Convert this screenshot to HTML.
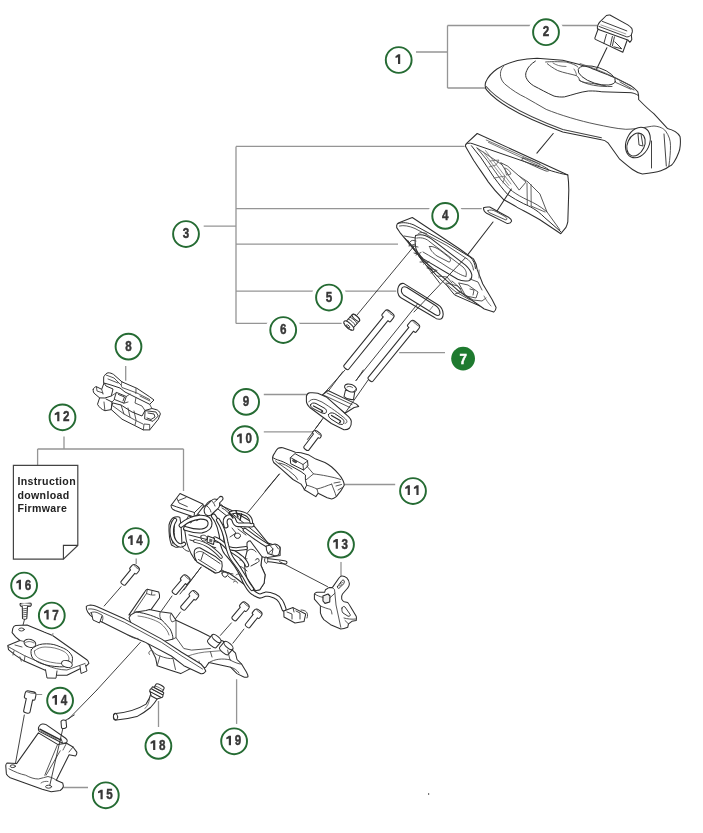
<!DOCTYPE html>
<html><head><meta charset="utf-8"><style>
html,body{margin:0;padding:0;background:#fff;width:703px;height:833px;overflow:hidden}
svg{display:block}
text{font-family:"Liberation Sans",sans-serif}
svg{will-change:transform}
</style></head><body>
<svg width="703" height="833" viewBox="0 0 703 833">
<rect width="703" height="833" fill="#fff"/>
<path d="M416 52H447.5 M447.5 25.5V88 M447.5 25.5H597 M447.5 88H486 M203.7 226.2H236 M236 146.4V323.4 M236 146.4H464.6 M236 208.7H481.7 M236 244.2H398 M236 291.2H396.3 M236 323.4H341.6 M399.2 352.7H445 M125.7 365.9V380.8 M263.8 394.5H308.4 M263.8 431.9H315.6 M343.5 484.5H395.2 M64 436.4V449 M37.6 449H183.5 M37.6 449V465.4 M183.5 449V491 M341 558V577 M136.2 555V564 M236.6 679.3V727 M158.5 701V727 M62 787.5H88" fill="none" stroke="#959595" stroke-width="1.3"/>
<g fill="none" stroke="#2e2e2e" stroke-width="1.05" stroke-linejoin="round" stroke-linecap="round">
<!-- part 2 cap -->
<path d="M598.5 28 L594.9 37.9 C594.8 38.6 595 39.1 595.4 39.4 L622.8 52.3 L627.8 38.5Z" fill="#fff"/>
<path d="M606.4 34.4 L603.9 43.3 M612.4 36.4 L610.4 45.3 M614.4 36.9 L612.4 45.8 M614.9 41.9 L621.8 48.8 L613.9 46.8" stroke="#333" stroke-width="0.95"/>
<path d="M597.9 24.9 C598.5 23.8 599.2 22.8 599.9 21.9 L606.4 15.5 C607.5 15 608.7 14.9 609.9 15 L627.8 24.9 C629.5 26 630.8 27.2 631.8 28.4 C632.3 29.6 632.4 30.8 632.3 31.9 L631.3 34.9 L631.8 39.4 C631.2 40.6 630.5 41.6 629.8 42.3 L627.8 39.9 L599.9 29.9 C598.8 29.5 597.8 29 597.4 28.4 C597.2 27.2 597.4 26 597.9 24.9Z" fill="#fff"/>
<path d="M598.9 26.4 L626.8 36.9 C628.5 37 630 36.2 631.3 34.9" stroke="#333" stroke-width="0.95"/>
<path d="M602.4 21.4 L626.8 30.9" stroke="#333" stroke-width="0.95"/>
<path d="M600.9 24.9 L625.8 33.9" stroke="#888" stroke-width="0.8"/>
<path d="M606.9 47.8 L585 93"/>
<!-- part 1 cover -->
<path d="M486 81.6 C488 77 492 72.5 497 69 C503 65 510 62.5 517.5 60.5 C524 59 530 58.3 537.1 58.2 L562.7 60.2 C572 62.5 580 64.5 588.3 67.1 C598 71 606 74 613.9 77.3 L631 85.8 C634 88 636.5 90 637.8 91.8 C638.5 94 638.8 97 638.6 99.5 C644 105 648 109 653.8 113.7 L667.4 128.4 C672 129.5 677 131 680 136.4 C681 142 680 150 678.8 152.3 C676 160 672 166 669.7 166 C665 170 660 172 642.4 174 C636 173 630 168 619.7 159.2 L608.3 143.2 C605 140 603 139.8 601.4 139.8 L562.8 131.9 C530 120 500 106 486.8 90.1 C484.8 88 484.8 84 486 81.6Z" fill="#fff"/>
<path d="M486.2 86.5 C499 102 528 116.5 562.8 129.6 L601.4 137.8" stroke="#444"/>
<path d="M503.5 66.5 C500.5 69 499.8 74 501 78 C502 81 503.5 83 506 85 C512 90 519 94.5 525.5 97.5 C532 101 539 105.5 546.2 109.4 C560 115 580 121 596 124.3 C607 126.5 615 128.5 625.8 129.3 C640 129 648 126.5 654 126 C660 126.5 663.5 128.5 665.6 131 C669 136 670.5 140 670.5 145.8 C670.5 152 670 158 668.9 165.7" stroke="#444" stroke-width="0.9"/>
<path d="M535.4 61.1 C531 64 528 67 526.8 70.5 C525.5 73 525.5 75 526 77.3 C527.5 81 530 83.5 533.7 85.8 C540 89 547 93 554.1 96.1 C558 97 561 97.2 564.4 96.9 C572 95 580 92 588.3 91 C594 90.8 598 91.2 601.9 91.8 L631 92.7 C634 93.2 636 94 637.8 95.2" stroke="#2e2e2e" stroke-width="1"/>
<path d="M545.6 62 C550 61.5 558 61.6 566.1 62 C572 63.5 576 65 578 67.1 M547.3 63.7 C550 66 553 68 557.6 70.5 C564 73 571 74 576.3 75.6 C578.5 77 579.5 79 579.7 80.7 C583 82.5 587 83 591.7 83.3 L605.4 85.8" stroke="#444" stroke-width="0.9"/>
<path d="M553 63 C556 65 560 66.5 566 66.5 M574 69 C576 72 577 75 576.3 75.6" stroke="#555" stroke-width="0.8"/>
<ellipse cx="596.8" cy="75.5" rx="19.5" ry="8" transform="rotate(18 596.8 75.5)" stroke-width="0.9"/>
<path d="M579 80 C586 85 600 87 612 86.5 M615.6 82.4 L631 89.3 M620 82 L634 90" stroke="#444" stroke-width="0.9"/>
<path d="M580 63.5 C600 70 615 77 630 85.5" stroke="#555" stroke-width="0.8"/>
<ellipse cx="637.9" cy="142.5" rx="11.5" ry="16" transform="rotate(25 637.9 142.5)" fill="#fff"/>
<ellipse cx="636" cy="144.5" rx="8.5" ry="12" transform="rotate(25 636 144.5)"/>
<path d="M638 134 L639 145 L643 146 L641 134Z" stroke-width="0.9"/>
<path d="M651.5 141 L651.5 168 M664 134 L666.3 166" stroke-width="0.9"/>
</g>
<g fill="none" stroke="#2e2e2e" stroke-width="1.05" stroke-linejoin="round" stroke-linecap="round">
<!-- part 3 housing -->
<path d="M477.2 133.5 L567.8 174.9 C568.5 180 568.8 185 568.8 189.9 L567.8 221.8 C567.3 224 566.7 226 565.8 227.7 L560.8 233.7 L539.9 219.8 C530 214 522 210 516.9 207.1 C512 204 507 201.5 503.2 199.2 C497 193 492 187 488.4 182.1 C483 174 478 167 473.7 160.5 L465.7 146.8 C465.3 145.5 465.5 144.3 466.3 143.6Z" fill="#fff"/>
<path d="M466.5 144 C468 143 470 143 472 143.5 L551.8 171 C557 172.5 562 174 567.8 174.9" stroke="#2e2e2e" stroke-width="1"/>
<path d="M486.2 140 L540 164 M488.4 142.3 L540 166.2" stroke="#555" stroke-width="0.8"/>
<path d="M523 158 C530 159.5 540 164 548 169 C550 170.5 549 171.5 546 171 C538 168 530 164 523.5 161 C521.5 160 521.5 158.5 523 158Z" stroke="#444" stroke-width="0.9"/>
<path d="M471.4 145.7 C474 149 477 153 480.5 157.1 C485 164 490 171 494.1 177.5 C499 184 503 189.5 507.8 194.6 C513 198 518 201 523.7 203.7 C530 206.5 536 209 544.9 217.8 L560.8 231.7" stroke="#2e2e2e" stroke-width="1"/>
<path d="M477 148 C480 152 484 156 487.3 160.5 C492 167 496 173 501 179.8 C505 184 508 188 512.3 191.2 C517 194.5 522 197.5 528.3 200.3 C534 203 540 206 546.9 211.8 L559.8 229.7" stroke="#444" stroke-width="0.9"/>
<path d="M527.9 181.9 L539.9 193.9 L546.9 211.8 M477 148 L527.9 181.9" stroke="#444" stroke-width="0.9"/>
<path d="M482.8 151.4 L508.9 185.5 M485.5 150.5 L511 184" stroke="#777" stroke-width="0.8"/>
<path d="M490 161 L499 160 L496 165 L489 167 M494 178 L505 176 L503 183" stroke="#666" stroke-width="0.8"/>
<path d="M501 162.8 L507.8 166.2 L526 182.1 L519.2 190.1 L510 177.5Z" fill="#fff" stroke="#444" stroke-width="0.9"/>
<path d="M527 183.2 L527.3 204.8 M531 184.5 L531.2 206 M531 206 L545 212" stroke="#555" stroke-width="0.9"/>
<path d="M505 168 C508 169 510 171 511 174 L507 175Z" stroke="#555" stroke-width="0.8"/>
<!-- gasket 4 -->
<path d="M483.5 207.8 C485 207 487.5 206.8 489.7 207 L508.5 217.2 C510.5 218.5 511.6 219.8 511.6 221.1 C511 222.8 509 223.6 506.9 223.4 L486.6 213.3 C484.5 212 483.3 210.8 483.5 207.8Z" fill="#fff"/>
<path d="M488 210.5 C490 209.5 493 210 496 211.5 L505 216.5 C507 218 507.5 219.5 506 220 L490 213 C488.5 212.3 487.5 211.5 488 210.5Z" stroke="#444" stroke-width="0.9"/>
<path d="M553.2 133.5 L536.9 153.2 M511.3 189 L497 211 M493 222 L465.2 258" />
</g>
<g fill="none" stroke="#2e2e2e" stroke-width="1.05" stroke-linejoin="round" stroke-linecap="round">
<!-- part 5 plate -->
<path d="M396.7 225.3 C397 224 397.5 223.3 398.3 223 L412.3 217.5 L459.3 248.8 L473.4 258.9 C475.5 262 476.8 265.5 477.3 269.9 L482.8 284 L492.1 299.6 L496.1 307.4 C496 309.5 495 311.2 493.7 312.1 L484.3 309 L457.7 290.2 L421.7 258.9 L399.8 232.3 L396.7 227.6Z" fill="#fff"/>
<path d="M398.3 223.5 C402 222 408 222.5 414 225 L447 243 L470 257 C473.5 260 475 264 475.5 268.5" stroke="#2e2e2e" stroke-width="1"/>
<path d="M399.5 226 C404 225 409 226 415 228.5 L446.8 245.5 L468 259.5 C471.5 262.5 473 266 473.5 270" stroke="#444" stroke-width="0.9"/>
<path d="M415.5 235.5 C420 234 426 235 431.1 238.6 L465.5 265.2 C468.5 268 471 271 471.8 274.6 C472 277.5 470.5 280 468.7 280.8 C464 281.5 460 280.5 457.7 279.3 L423.3 258.9 C419 255 416 251 415.5 246.4 C415 242 415 238 415.5 235.5Z" fill="#fff"/>
<path d="M417 238 C422 237 427 239 430 242 L463 267 C466 270 467 273 466 276 M423 252 C430 256 440 262 449 268 C456 272 462 276 466 276.5" stroke="#444" stroke-width="0.9"/>
<path d="M429.6 246.4 C433 246 437 248 441 251 L449.9 258 C451 260 450.5 262 449 262.1 L437 256 C433 253 430 250 429.6 246.4Z" stroke="#444" stroke-width="0.9"/>
<path d="M418 234 C420 232 424 232 427 234 M416 241 C413 240 411 240 410 242" stroke="#444" stroke-width="0.9"/>
<path d="M407.6 240.2 L423 262 L446.8 285.5 L454.6 294.9 L479.6 305.9" stroke="#2e2e2e" stroke-width="1"/>
<path d="M404 236 L416 238 M409 245 L418 247 M414 253 L420 255 M420 262 L428 262 M427 268 L436 270" stroke="#444" stroke-width="0.9"/>
<path d="M437 276 L447 277 L452 283 M446 283 L458 286 L462 292 L455 294" stroke="#444" stroke-width="0.9"/>
<path d="M459 283 L468 285 L478 292 L476 298 L466 296Z M470 289 L474 290 L473 295" stroke="#444" stroke-width="0.9"/>
<path d="M461 292 L473 300 L482 301 L486 298 M470 279 L478 282 L482 290" stroke="#444" stroke-width="0.9"/>
<path d="M405.5 238.5 L440 283.5 M409 242 L436 275" stroke="#333" stroke-width="0.95"/>
<path d="M409 246 L415.5 244 M416 255 L421 252.5 M423.5 264 L429 261.5 M431 273 L437 270.5" stroke="#444" stroke-width="0.9"/>
<path d="M446 284 L456 292 L470 300 M452 281 L461 289" stroke="#444" stroke-width="0.9"/>
<path d="M479 270 L479 278 M484 296 C486 300 489 304 491 306" stroke="#555" stroke-width="0.8"/>
<!-- gasket ring (7) -->
<path d="M398.5 286.5 C400 283.5 402 283 404 283.6 L438 304.7 C441 306.5 443 310 443.2 314.1 C443 317.5 441.5 319.3 439.5 319.3 C437 319.2 435.5 318.5 434.6 317.5 L400.5 297.5 C397.5 295 396.8 290 398.5 286.5Z" fill="#fff"/>
<path d="M402 288 C403 286.5 405 286.5 407 287.5 L435.5 305.5 C438.5 307.5 440 311 440 313.5 C439.5 316 437.5 316 435 314.5 L403.5 295 C401.5 293 401 290 402 288Z"/>
<path d="M429 311 L433 306" stroke="#666" stroke-width="0.8"/>
<!-- part 6 bushing -->
<g transform="translate(352.5 321.5) rotate(-48)">
<path d="M-5 -4.8 L5 -4.8 C6.5 -4.8 7 -3 7 0 C7 3 6.5 4.8 5 4.8 L-5 4.8Z" fill="#fff"/>
<ellipse cx="5" cy="0" rx="1.8" ry="4.8" fill="#fff"/>
<path d="M-1 -4.8 C0 -2 0 2 -1 4.8 M1.5 -4.8 C2.5 -2 2.5 2 1.5 4.8" stroke="#444" stroke-width="0.9"/>
<ellipse cx="-5.5" cy="0" rx="2.4" ry="6.3" fill="#fff"/>
<path d="M-7 -5 C-9 -3 -9 3 -7 5" stroke="#444" stroke-width="0.9"/>
<ellipse cx="-6.5" cy="0" rx="0.9" ry="2.2" stroke-width="0.8"/>
</g>
<!-- axis lines -->
<path d="M465.2 258 L414 312 M417.5 304 L355.8 380.7 M342.8 371.7 L327.9 391.6" stroke-width="0.9"/>
<path d="M414.1 246 L357 315" stroke-width="0.9"/>
</g>
<g fill="none" stroke="#2e2e2e" stroke-width="1" stroke-linejoin="round" stroke-linecap="round">
<!-- part 8 clip frame -->
<path d="M103.9 376.5 C105 374.5 106.5 373 108.1 372.8 C110 372.7 112 373.5 113.5 374.4 L122 381.9 L136.9 388.3 L149.7 396.8 L154 400 L151 403 L149.7 404.3 L136 397.5 L125 392 L120 388 L111 385 L104 383Z" fill="#fff"/>
<path d="M106 375 L114 378 L121 385 M108 379 L118 383" stroke="#444" stroke-width="0.9"/>
<path d="M122 381.9 C121 384 121 386 122 387.5 L136.9 393 L149.7 399.5 M135.9 393.6 L136 388.5 M140 396 L150 401" stroke="#444" stroke-width="0.9"/>
<path d="M93.2 389.3 C94 387.5 95 386.8 96.4 386.7 L101.7 389.3 L104 383 L106 386 L113 389 L111.3 396 L104.9 398 L99.6 397.9 L97.5 404.3 C99 407 101.5 409.5 104.9 410.7 L111.3 409.6 L112 402 L106 399 M93.2 389.3 C93 391.5 93.5 393 95 394 L99.6 397.9" fill="#fff"/>
<path d="M96.4 386.7 L97 391 L103 393 M101.7 389.3 L103 394 M104.9 410.7 L104 402" stroke="#444" stroke-width="0.9"/>
<path d="M116.7 392.5 L126.3 396.5 L124 403.2 L114.5 399.5Z M118.5 394.5 L124.5 397 L123 401" stroke="#2e2e2e" stroke-width="0.95"/>
<path d="M111.3 396 L116.7 392.5 M112 402 L114.5 399.5 M126.3 396.5 L130 394 M124 403.2 L128 402" stroke="#444" stroke-width="0.9"/>
<path d="M111.3 409.6 L122 419.2 L134.8 425.6 L143.3 429.9 L149.7 429.9 L158.3 419.2 L160.4 413.9 C159.5 411.5 158 410 156.1 409.6 L151.9 408.5 L145 410.5 L142 416 L132 412 L121 405 L113 403Z" fill="#fff"/>
<path d="M113 406 L124 414 L134.8 420 L143 424 M121 405 L124 414 M128 408 L130 417 M134 411 L136 420" stroke="#444" stroke-width="0.9"/>
<path d="M145.5 410.7 L156 412 L158.3 416 L153 421.3 L145 419Z M148 413 L154 414 L155 417 L151 419.5 L147 418" stroke="#2e2e2e" stroke-width="0.95"/>
<path d="M143.3 429.9 L144 424 L149.7 424.5 L149.7 429.9 M134.8 425.6 L136 421" stroke="#444" stroke-width="0.9"/>
<path d="M149.7 404.3 L151.9 408.5 M136 397.5 L135 403 L142 406 L145 410.5" stroke="#444" stroke-width="0.9"/>
</g>
<g fill="none" stroke="#2e2e2e" stroke-width="1.05" stroke-linejoin="round" stroke-linecap="round">
<!-- part 9 -->
<path d="M322.3 395 L328 390.5 L356.4 404.1 L358.7 406.4 L354.2 407.5 L345 413.2Z" fill="#fff"/>
<path d="M327 393 L352 404.5 M324.5 395.5 L350 407.5" stroke="#444" stroke-width="0.9"/>
<path d="M345.5 390 L344 396.5 C346 398.5 350 400 353.5 399.5 L354.8 391.5Z" fill="#fff"/>
<ellipse cx="350.5" cy="388" rx="6.2" ry="3.6" transform="rotate(20 350.5 388)" fill="#fff"/>
<path d="M347 387 C348.5 386 351 386.2 352.5 387.5 M353.5 392 C354.5 390.5 355.5 389.5 356.5 389" stroke="#444" stroke-width="0.9"/>
<path d="M306.4 396.2 C307 394 308 393 309.8 392.8 C313 392.6 316 392.8 317.8 393.3 L326.9 397.3 L348.5 416.6 C350 418 351 419.5 351.3 421.2 C351.5 424 350.8 426.5 349.6 428 C348 429.5 346 429.8 343.9 429.7 L331.4 423.5 L309.8 407.5 C307.5 405 306.2 402.5 306.4 400.7Z" fill="#fff"/>
<path d="M308.7 401.9 C310 399.5 313 399 316 399.5 L322 402 C330 407 340 414 345.5 419 C347.5 421 347.5 423 345 423.5" stroke="#444" stroke-width="0.9"/>
<path d="M310.5 405 C311 403 313.5 402.5 316 403.5 L325 408.5 C327 410 327 412.5 325 413.5 L322 413 L313 408.5 C311.5 407.5 310.5 406.5 310.5 405Z M328.5 414.5 C329.5 412.5 332 412.5 334.5 413.5 L342 418.5 C344.5 420 344.5 423 342.5 424.5 L339 424 L331 419 C329 417.5 328.2 416 328.5 414.5Z" stroke="#2a2a2a" stroke-width="1"/>
<path d="M313.5 406 L322 410.5 C323 411.5 322.5 412 321.5 412 M331.5 415.5 L340 420.5 C341 421.5 340.5 422.5 339.5 422.5" stroke="#2a2a2a" stroke-width="1.3"/>
<path d="M345 370 L324.6 392.8 M356.4 380.2 L363.3 370 M373.5 372.3 L345 413.2 M323.4 417.8 L307.5 439.4" stroke-width="0.9"/>
<path d="M321.9 420 L316 428" stroke-width="0.9"/>
<!-- part 11 -->
<path d="M272.6 457.4 C273 455.5 273.8 454 274.8 452.8 C276 450.5 277 449 278.2 448.3 C279.5 447.6 281 447.5 282.8 447.7 L290.8 450.5 L295.3 452.2 L301 452.8 L309 455.1 L315.8 459.1 L324.9 462.5 C327.5 463.8 329.5 465.2 331.7 467 C334 469 336.5 471.5 338.5 473.9 C340.5 476 342 478.5 343.1 480.7 C343.8 482.2 344.2 483.8 344.2 485.2 L340.8 490.9 L336.3 496.6 C334.5 498 333 498.8 331.7 498.9 L327.2 497.7 L318.1 493.2 L315.8 496.6 L304.4 489.8 L303.3 487.5 L301 484.1 L293 479.5 L281.7 469.3 L273.7 462.5 C272.8 461 272.4 459 272.6 457.4Z" fill="#fff"/>
<path d="M272.8 457.5 C274 458.5 276 459.5 280.5 460.8 C284 462 287.5 464 290.8 465.9 L301 471.6 L305.5 475 C305.3 477 305.3 479 305.5 480.7 L306.7 485.2 L304.4 489.8" stroke="#2e2e2e" stroke-width="1"/>
<path d="M275.5 461 C277 462.5 279 464 281 465 L288.5 470.4 C291 472.5 293.5 474.5 295.3 476.1 L297.6 479.5 M279 463 C283 463.5 288 466 292 469" stroke="#444" stroke-width="0.9"/>
<path d="M290.5 457.5 L295 453.6 L307.5 460.5 L308 466 L303.5 470 L291 463.8Z" fill="#fff" stroke="#2e2e2e" stroke-width="1"/>
<path d="M291 457.8 L303 464.5 L307.8 460.8 M303 464.5 L303.5 470" stroke="#333" stroke-width="0.9"/>
<path d="M293.5 459.5 L297 461.5 L296 463 L292.8 461.2Z" fill="#555" stroke="#333" stroke-width="0.8"/>
<path d="M306.7 465.9 L313.5 473.9 C318 474.5 322 475 327.2 476.1 C332 477 336.5 478 340.8 479.5 M313.5 473.9 L306 480" stroke="#444" stroke-width="0.9"/>
<path d="M331.7 484.1 C333 488 335 492 336.3 496.6 M334 483 L340 482 M336 486 L341.5 484.5 M338 490 L342.5 487.5" stroke="#444" stroke-width="0.9"/>
<path d="M306.7 485.2 C310 486 314 487.5 317 489 L318.1 493.2 M317 489 C322 488 327 485.5 331.7 484.1" stroke="#444" stroke-width="0.9"/>
<path d="M279.2 474.1 L265 491.1" stroke-width="0.9"/>
</g>
<g fill="none" stroke="#2e2e2e" stroke-width="1.05" stroke-linejoin="round" stroke-linecap="round">
<!-- ECU / throttle body main -->
<path d="M185 532 C184 525 186 519 191 516 L206 505 C209 500 214 498 219.7 504.9 L233.4 511.3 L250 521 L268 543 L280.1 547 L280.1 555.6 L266 557.7 L262 556.7 L260.9 565.2 L265.1 574.8 L264.1 583.3 L259.8 589.7 L255.5 590.8 C248 588 242 583 236 578 L228.4 572.7 L222 571 L215 573 L195 560 C190 553 186 544 185 532Z" fill="#fff"/>
<path d="M220.4 504 L269 543.6 M218 509 L262 544 M188.9 534.9 L219.8 542.9 M189.9 539.9 L215.8 547.8 M219.8 542.9 C224 545 226 547 228 549" stroke="#2e2e2e" stroke-width="1"/>
<path d="M201 536 C203 534.5 206 535 207 537.5 C207.5 540 205.5 541.5 203 541 C201 540 200.5 538 201 536Z M208 538 C210 537 212 538 212.5 540" stroke="#333" stroke-width="0.9"/>
<path d="M247 542.8 C248 541 249 540.7 250.2 540.7 L262 556.7 L260.9 565.2 L265.1 574.8 L264.1 583.3 L259.8 589.7 L255.5 590.8 L247 578 C244 570 244 560 247 551.3Z" fill="#fff"/>
<path d="M247 551.3 C250 548 254 549 256 552 M240 560 L247 558.8 M238 566 C241 566 244 568 247 571" stroke="#333" stroke-width="0.9"/>
<path d="M255.5 560 C256 558.5 258 558 259 559.5 C259.5 561 258.7 562 257.5 562.5 L251 566" stroke="#333" stroke-width="1"/>
<path d="M169 525 C170 521 172.5 517.5 175 517 C177.5 516.5 179.5 517 179.9 517.5 L181 525 L182 545 C180 547.5 177 547.5 175 546.9 L171.5 545 C169.5 540 168.8 532 169 525Z" fill="#fff"/>
<path d="M172 521 C170.5 528 171 538 173 544 M175.5 519 C173.5 527 174 538 176.5 545.5" stroke="#333" stroke-width="0.9"/>
<path d="M180 493.5 L202.8 504 C203.5 505 203.5 506 203 507 L196.5 515.5 L194 517 L175 510.5 C172.5 509.5 171 507.5 171 505.5 Z" fill="#fff"/>
<path d="M171.5 505 C178 507.5 186 510 194.5 512.5 L202.8 504.5 M194.5 512.5 L194 517" stroke="#2e2e2e" stroke-width="1"/>
<path d="M177 498.5 L179 503 L187.3 506.6 M178.5 500.5 L186 497.5" stroke="#333" stroke-width="0.9"/>
<path d="M189 516 L193 519 L191 523 L186 521Z M195 516.5 L199 514 L201 518 L197 520.5Z" fill="#fff" stroke="#333" stroke-width="0.9"/>
<path d="M205.2 507 L211.5 500.5 C213 499 215 498.5 217 499.5 L219 497.5 C220 496.4 221.5 496.2 222.5 497 C223.2 498 223 499.5 222 500.5 L219.5 503 C220 505 219.5 507 218 508.5 L211 515 C209 516 206.5 515.5 205.2 514 C204 512 204 509 205.2 507Z" fill="#fff"/>
<path d="M211.5 500.5 C213 502 214.5 504 215 506 M214.5 502 L217.5 499.5 M207 506 C209 507.5 210.5 509.5 211 512" stroke="#333" stroke-width="0.9"/>
<g fill="none">
<path d="M181 525.4 C186 521 193 518 200 517.2 C206 517 209.5 519 210 522.5 C210.5 527 207 530 201.8 531 C196 531.5 190 530 185.5 528.5" stroke="#2a2a2a" stroke-width="5.0"/><path d="M181 525.4 C186 521 193 518 200 517.2 C206 517 209.5 519 210 522.5 C210.5 527 207 530 201.8 531 C196 531.5 190 530 185.5 528.5" stroke="#fff" stroke-width="2.8"/>
<path d="M175 520 C170 527 171 538 176 543 C179 546 182 546 184 544" stroke="#2a2a2a" stroke-width="4.5"/><path d="M175 520 C170 527 171 538 176 543 C179 546 182 546 184 544" stroke="#fff" stroke-width="2.4"/>
<path d="M213.5 516 C218 521 221 530 222.5 543.9 C224 550 226 553 227.8 554.5 C231 558 234 562 236.3 565.2 C239 569 241 573 242.7 576.9 C244 580 245.5 583 247 585.5 C249 589 251 591.5 253.4 592.9 C256 594.5 258 596 259.8 596.1 C262 596 264 594.5 266.2 594 C269 594 272 595 274.7 596.1 C277 597 279 598.5 280.5 601 C282 603 283 606 284 609" stroke="#2a2a2a" stroke-width="5.2"/><path d="M213.5 516 C218 521 221 530 222.5 543.9 C224 550 226 553 227.8 554.5 C231 558 234 562 236.3 565.2 C239 569 241 573 242.7 576.9 C244 580 245.5 583 247 585.5 C249 589 251 591.5 253.4 592.9 C256 594.5 258 596 259.8 596.1 C262 596 264 594.5 266.2 594 C269 594 272 595 274.7 596.1 C277 597 279 598.5 280.5 601 C282 603 283 606 284 609" stroke="#fff" stroke-width="3"/>
<path d="M215 538.5 C219 540 224 544 227.8 548.1 C232 551 237 554 241.7 557.7 C244 560 246 562 247 565.2" stroke="#2a2a2a" stroke-width="4.5"/><path d="M215 538.5 C219 540 224 544 227.8 548.1 C232 551 237 554 241.7 557.7 C244 560 246 562 247 565.2" stroke="#fff" stroke-width="2.4"/>
<path d="M228.9 548.1 C232 549 234 549.2 236.3 549.2 C240 549 243 548.5 245.9 548.1" stroke="#2a2a2a" stroke-width="4"/><path d="M228.9 548.1 C232 549 234 549.2 236.3 549.2 C240 549 243 548.5 245.9 548.1" stroke="#fff" stroke-width="2"/>
<path d="M226 526 C224.5 522 225 518.5 228 517 C231 516 233.5 518 234.2 521 C235 523.5 236 524.5 238 524.7 L252 525" stroke="#2a2a2a" stroke-width="5"/><path d="M226 526 C224.5 522 225 518.5 228 517 C231 516 233.5 518 234.2 521 C235 523.5 236 524.5 238 524.7 L252 525" stroke="#fff" stroke-width="2.8"/>
<path d="M230.8 513 C234 511.5 237 511.7 239.4 512.2 C243 513 246 514 247.9 515.6 C250 517.5 251.3 520 251.3 522.4" stroke="#2a2a2a" stroke-width="3.6"/><path d="M230.8 513 C234 511.5 237 511.7 239.4 512.2 C243 513 246 514 247.9 515.6 C250 517.5 251.3 520 251.3 522.4" stroke="#fff" stroke-width="1.6"/>
<path d="M244.9 530 C249 533 252 535.5 256.6 538.5 C260 541 264 543.5 268.3 546" stroke="#2a2a2a" stroke-width="4.5"/><path d="M244.9 530 C249 533 252 535.5 256.6 538.5 C260 541 264 543.5 268.3 546" stroke="#fff" stroke-width="2.4"/>
<path d="M266.2 560 C272 560.5 278 561.5 285.4 562.5" stroke="#2a2a2a" stroke-width="4.2"/><path d="M266.2 560 C272 560.5 278 561.5 285.4 562.5" stroke="#fff" stroke-width="2.2"/>
<path d="M218 520 C222 526 225 534 226.5 543 C228 550 230 556 233 560 C237 565 241 571 244.5 577 C247 582 249.5 586 252 589" stroke="#2a2a2a" stroke-width="4.2"/><path d="M218 520 C222 526 225 534 226.5 543 C228 550 230 556 233 560 C237 565 241 571 244.5 577 C247 582 249.5 586 252 589" stroke="#fff" stroke-width="2.2"/>
<path d="M195 541 C200 542 206 544 210 547 C214 550 218 553 221 557" stroke="#2a2a2a" stroke-width="3.6"/><path d="M195 541 C200 542 206 544 210 547 C214 550 218 553 221 557" stroke="#fff" stroke-width="1.8"/>
</g>
<path d="M207.8 536 L214.5 538.5 L213.5 544.5 L207 542Z" fill="#fff" stroke="#2a2a2a" stroke-width="1.1"/>
<path d="M209.5 538.5 L212.5 539.5 L212 542.5 L209 541.5Z" fill="#666" stroke="none"/>
<path d="M235 534 C237 532.5 240 533 240.5 535.5 C240.5 538 238 539 236 538 C234.5 537 234 535.5 235 534Z" fill="#fff" stroke="#2a2a2a" stroke-width="1"/>
<path d="M222 573 C224 571.5 227 572 228 574.5 L226 577 C224 577.5 222 576 222 573Z" fill="#fff" stroke="#2a2a2a" stroke-width="1"/>
<path d="M229 512.5 L233 518 M236 511 L238 517 M241.5 514 L240 520" stroke="#2a2a2a" stroke-width="1.4"/>
<path d="M232 528 L236 533 L230 537 M238 529 L246 535 M222 508 C226 510 228 512 229 514" stroke="#333" stroke-width="0.9"/>
<path d="M194.2 552 C194.5 549.5 196.5 547.7 199.8 547.8 L215.8 556.8 L221.8 561.8 C222.5 565 222.3 568 221.5 570 C220 572 218 573 215.5 573 L197 562 C195 559 194 555.5 194.2 552Z" fill="#fff"/>
<path d="M196 553 C198 551 201 551 203.5 552.5 L220 563.5 M198.5 559.5 L216 570.5 M203.5 552.5 L201 560" stroke="#333" stroke-width="0.9"/>
<path d="M182 546 C183 549 186 551 189 551.5 M222 570 C225 572 229 573.5 233 574 M228 576 C231 579 233 580 235 580" stroke="#333" stroke-width="0.9"/>
<path d="M236 575 C238 573 241 574 241.5 576.5 M233.5 582 C235 580.5 237 581 237.5 583" stroke="#333" stroke-width="0.9"/>
<path d="M201.3 567 L180 594" stroke="#2e2e2e" stroke-width="0.9"/>
<path d="M266.2 546 L275 543.9 C278 544.5 280 546.5 280.1 549 L279 554 C278 555.5 276 556 274 555.6 L268 553.5 C266.5 551 266 548.5 266.2 546Z" fill="#fff"/>
<path d="M270 545.5 L273 549 L272 554 M275.5 545 L278.5 549 M268 553.5 L273 549" stroke="#333" stroke-width="0.9"/>
<path d="M266 557 C264 559 264 562 266.5 563.5 C268 562 268.5 559 266 557Z" fill="#fff" stroke="#333" stroke-width="0.9"/>
<path d="M283.8 611 L293 607.6 L305.7 614 L304 621.6 L295 623 L284 617Z" fill="#fff"/>
<path d="M287 612 L292 614 L292 619 M296 611 L300 613 L300 619 M293 607.6 L294 612" stroke="#333" stroke-width="0.9"/>
<path d="M301 610 C306 610 309 613 307 618" stroke="#333" stroke-width="0.9"/>
<!-- axis lines -->
<path d="M247.6 512.8 L279.5 474 M279.5 561.6 L327.6 586.7" stroke-width="0.9"/>
<!-- part 13 bracket -->
<path d="M341.7 576.1 C343.5 576 345.5 576.8 346.8 577.8 C348.5 579.5 349.3 581.5 349.4 583.8 C349.3 585.5 348.8 587 347.7 588 L342.5 594 C341.5 595.5 341.3 597.5 341.7 599.1 C342.3 600.5 343.2 601.3 344.2 601.7 L347.7 602.5 C349 604 350 605.8 351.1 607.7 L356.2 616.2 C356.6 617.5 356.6 619 356.2 620.5 L351.9 621.3 L348.5 623.9 L347.7 627.3 C345 628.5 343 629 340.8 629 L330.6 624.7 L323.8 619.6 C322 617.5 321 615 320.4 612.8 L320.4 606 L314.4 599.1 L314.4 594 C315 593 316 592.5 316.9 592.3 L324.6 592.3 L325.5 589.7 L328.9 587.6 L332.3 587.6 L339 578 C339.8 577 340.7 576.3 341.7 576.1Z" fill="#fff"/>
<path d="M337.5 586.5 L342 580.5 C343 579.8 344 580 344.3 581 L344 583.5 L339 588.3 C338 588.6 337.2 588 337.5 586.5Z" stroke="#333" stroke-width="0.95"/>
<path d="M339.5 584 L342.5 582.5 M339 586 L342 584.5" stroke="#555" stroke-width="0.8"/>
<path d="M322.9 596 L328 594 L330 596 L329.7 602 L325 603.4 L323 601Z" stroke="#2a2a2a" stroke-width="1.1" fill="#eee"/>
<path d="M314.4 594 C317 595.5 320 596.8 322.9 597.4 M320.4 606 C324 607.5 327.5 608.8 330.6 609.4 C331.5 611 332 612.5 332 614 M332.3 587.6 L334.5 589.5 L334.9 593.2 L336 605 L340.8 627.3 M329.7 598 L334.9 593.2" stroke="#444" stroke-width="0.9"/>
<path d="M342 608 C342.5 606.5 344 606 345 607 L350.2 614.5 C350.5 616 349.5 616.5 348 616.2 L343 613 C341.8 611.5 341.7 609.5 342 608Z" stroke="#333" stroke-width="0.95"/>
<path d="M344 618 C347 619 352 619.5 356 619 M345 620.5 L348.5 623.9" stroke="#444" stroke-width="0.9"/>
</g>
<g fill="none" stroke="#2e2e2e" stroke-width="1.05" stroke-linejoin="round" stroke-linecap="round">
<path d="M121.1 586.6 L104.2 606 M172 596 L159.8 613.2 M180.5 612 L170 626 M231.4 622.9 L220.4 635.4 M243.9 629.1 L232.9 643.2 M200.9 567.3 L184 590" stroke-width="0.9"/>
<!-- part 19 manifold -->
<path d="M129 614.9 L144.6 592.1 C145.5 590.5 146.5 589.5 147.4 589.3 L158.8 592.1 C159.5 594 159.7 596 159.5 597.8 L150.3 610.6 L146 615Z" fill="#fff"/>
<path d="M147.4 589.3 L146.5 593.5 L134 612 M152 590.5 L151.5 594.5 M146.5 593.5 C149 594.5 152 595.5 155 595" stroke="#444" stroke-width="0.9"/>
<!-- body -->
<path d="M129 617.7 C131 614.5 133.5 612.8 136 612 L146 610.6 L149.4 609.4 L160.3 611.7 L171.3 613.3 L176 620.3 L199.5 631.3 L208.9 636 L222.9 641 L235.5 653.2 L237 659.5 L241.7 664.2 L246.4 672 C247.5 674 248 675.5 248 676.7 C246.5 677.5 245 677.5 243.3 676.7 L237 673.6 L230.8 667.3 L208.9 662.6 L205.7 667.3 L201 668.9 L193.2 667.3 L187 670.4 L180.7 673.6 L171.3 670.4 L157.2 665.7 L155.6 657.9 L149.4 645.4 L138.9 634.8 C133 628 130 622 129 617.7Z" fill="#fff"/>
<path d="M136 612 C146 613 156 617 161.7 620 C166 624 169 628 170.2 629.1 C172 633 173 636 173 639.1 L161.7 641.9 L138.9 634.8" stroke="#2e2e2e" stroke-width="1"/>
<path d="M138 616 C147 617 155 620 160 623 C165 627 168 631 169 635" stroke="#555" stroke-width="0.8"/>
<path d="M160.3 611.7 C159 615 160 619 161.7 620 M171.3 613.3 C169.5 616 170 619 172 622 L176 620.3" stroke="#444" stroke-width="0.9"/>
<path d="M176 620.3 L176 637.6 L183.8 648.5 L191.6 650.1 L210.4 648.5 M173 639.1 L176 637.6" stroke="#444" stroke-width="0.9"/>
<path d="M187 656.3 C195 653.5 202 652 210.4 651.6 L227.6 650.1" stroke="#555" stroke-width="0.8"/>
<g transform="translate(216.5 638.5) rotate(130)"><path d="M0 -5.6 L7 -5.6 C8.5 -5.6 9 -3 9 0 C9 3 8.5 5.6 7 5.6 L0 5.6Z" fill="#fff"/><ellipse cx="0" cy="0" rx="2.4" ry="5.6" fill="#fff"/></g>
<g transform="translate(228.5 645.5) rotate(130)"><path d="M0 -5.6 L7 -5.6 C8.5 -5.6 9 -3 9 0 C9 3 8.5 5.6 7 5.6 L0 5.6Z" fill="#fff"/><ellipse cx="0" cy="0" rx="2.4" ry="5.6" fill="#fff"/></g>
<path d="M210.4 651.6 L212 657 M227.6 650.1 L230 660 C234 662 238 664 241.7 664.2 M208.9 662.6 C215 659 222 658 230.8 660 M230.8 667.3 C234 668 237 670 239 673" stroke="#444" stroke-width="0.9"/>
<path d="M149.4 645.4 C151 650 154 654 160 656 C165 658 170 659 173 658.5 L175.5 669.5 M160 656 L157.2 665.7 M151 650.5 C149 651 148 653 149.5 654.5" stroke="#444" stroke-width="0.9"/>
<path d="M201 668.9 L199 661 M193.2 667.3 L195 660" stroke="#555" stroke-width="0.8"/>
<!-- long arm / rail -->
<path d="M86.3 606.3 C87.5 605.3 89 604.9 90.5 604.9 C93 605 95 605.5 96.2 606.3 L124.7 619.1 L161.7 639.1 L181.6 652.3 L200.9 664 C203 666 205 668.5 205.8 671.2 C204.5 673 202.5 674 200.9 673.7 L183.8 665.7 L171.3 656 L144.6 641.9 L127.5 634.8 L101.9 622 C94 619 90 616 87.7 612 C86.5 610 86 608 86.3 606.3Z" fill="#fff"/>
<path d="M88.5 609 C92 608.5 96 609.5 100 611.5 L124.7 622.5 L161.7 642.5 L181 655.5 L202.5 669" stroke="#444" stroke-width="0.9"/>
<path d="M101.9 622 C103 620 103.5 617 102 615 L97 612.5 C94 611.5 91 612 89.5 613.5" stroke="#444" stroke-width="0.9"/>
<path d="M91.5 613 L93 620 L99.5 623 L102 616" stroke="#2e2e2e" stroke-width="1" fill="#fff"/>
<path d="M127.5 634.8 C131 637 135 639 138 638.5" stroke="#444" stroke-width="0.9"/>
<path d="M140.5 642.2 L96.9 690 M68.3 719.3 L96.9 690" stroke-width="0.9"/>
<!-- part 16 screw -->
<path d="M20 604 C20.5 602.8 25 602.5 31 603.2 C31.5 604 31.3 605.5 30.5 606.3 L27.5 606.5 L26.8 618.5 C26 619.5 23.5 619.5 22.5 618.5 L22.3 606.5 L20.8 606.2 C20.2 605.6 20 604.8 20 604Z" fill="#fff"/>
<path d="M22.4 609 L27.4 608.2 M22.4 611 L27.2 610.2 M22.5 613 L27.1 612.2 M22.5 615 L27 614.2 M22.6 617 L26.9 616.2" stroke="#444" stroke-width="0.8"/>
<path d="M21 605 C24 605.8 28 605.8 30.8 605" stroke="#555" stroke-width="0.8"/>
<path d="M24.5 619.5 L22.5 627" stroke-width="0.9"/>
<!-- part 17 plate -->
<path d="M12.8 628.4 C13.5 626.5 14.5 625.8 15.6 625.6 L27 624.9 L52.6 635.5 L86.8 659.7 C88 661 88.8 662 88.9 663.3 L85.3 666.8 L81.1 668.2 L66.9 675.3 L56.9 675.3 L46.9 671.1 L24.2 661.1 L15.6 655.4 L8.5 649.7 L7.8 645.5 L19.9 640.5 L15.6 636.9 L12.1 632.7Z" fill="#fff"/>
<ellipse cx="21.5" cy="629.5" rx="2.8" ry="1.5" stroke-width="0.9"/>
<path d="M8 646.5 C12 649 18 652 24.2 655.5 L46.9 665.5 C53 668 60 670 66.9 670 L85 663.5" stroke="#444" stroke-width="0.9"/>
<path d="M19.9 640.5 C24 641.5 28 642.5 31 642 M15 645 L22 647" stroke="#444" stroke-width="0.9"/>
<path d="M31.3 649.7 C34 646.5 38 644.5 42.7 644 C48 643.5 53 644 56.9 645.5 C62 647.5 66 649 68.3 651.2 C71 654 72.5 656 72.5 658.3 C72.5 661 72 663.5 71.1 665.4 C67 666.5 63 667 59.7 666.8 C53 666.5 47 665.5 42.7 664 C38 662.5 35 660.5 32.7 658.3 C31 655.5 30.5 652 31.3 649.7Z" stroke="#2e2e2e" stroke-width="1"/>
<path d="M34.5 651 C37 648.5 41 647 45 647 C52 647 58 648.5 63 651 C67 653 69 656 69 659 C68.5 662 66 663.5 62 663.5 C55 663.5 46 661.5 40 659 C36 657 34 654 34.5 651Z" stroke="#555" stroke-width="0.8"/>
<ellipse cx="29.9" cy="643.3" rx="6" ry="4" transform="rotate(15 29.9 643.3)" fill="#fff" stroke-width="0.95"/>
<path d="M25 643 C27 641 31 641 34 643" stroke="#555" stroke-width="0.8"/>
<ellipse cx="66.9" cy="664" rx="5.5" ry="3.3" transform="rotate(15 66.9 664)" fill="#fff" stroke-width="0.95"/>
<path d="M19.9 656.9 L21.3 661.1 M14 651 L13 655 M24.2 661.1 L25 656" stroke="#444" stroke-width="0.9"/>
<path d="M45.5 669.7 L47 678 L56 678.2 L57 671" stroke-width="0.95" fill="#fff"/>
<path d="M80 666 L81 673.5 L87 671 L85.5 665" stroke-width="0.95" fill="#fff"/>
<!-- part 15 -->
<path d="M38.4 732.9 L16.6 763.6 L7 763 C6 764 5.6 765 5.8 766.2 L6.4 773.9 C7.5 776 9 777 10.2 777.7 L42.2 789.3 L51.2 791.8 L60.2 790.5 C62 789.5 63 788 63.4 786.1 L62.7 782.9 L56.3 780.3 L69.1 754.7 L75.5 756 C76.5 755 77 753.5 76.8 752.1 L73 747 L66.6 743.2 L57.6 744.4Z" fill="#fff"/>
<path d="M38.4 729.1 C38 727 40 724.5 42.2 724 C44 723.8 45 724 46.1 724.6 L65.3 738 C66.5 739 67.3 740 67.2 740.6 C67.2 741.5 66.8 742.3 66.6 742.5 C64.5 743.5 63.5 743.5 62.7 743.2 L39.7 731.6 C38.8 731 38.5 730 38.4 729.1Z" fill="#fff"/>
<path d="M40.5 731 C45 733 52 736.5 57 739.5" stroke="#555" stroke-width="0.8"/>
<path d="M39.8 729.2 L61 740.2" stroke="#2a2a2a" stroke-width="1.3"/><path d="M61 738.5 L62.7 743.2" stroke="#444" stroke-width="0.9"/>
<path d="M57.6 744.4 L44.8 775.2 M9 768.8 C15 772 20 774 25.6 775.2 C30 777.5 34 779 38.4 779 L43.5 777.7 L48 776.5 C52 777.5 55 779 56.3 780.3" stroke="#444" stroke-width="0.9"/>
<path d="M60.2 750.8 L46.1 775.2 M66.6 743.2 C65 746 64 748 63 750 M73 747 L69 752" stroke="#444" stroke-width="0.9"/>
<path d="M41 783 C43 781.5 45.5 781 48 781.5" stroke="#444" stroke-width="0.8"/>
<ellipse cx="12.8" cy="766.2" rx="2.6" ry="1.4" stroke-width="0.9"/>
<ellipse cx="48.6" cy="786.7" rx="3" ry="1.5" stroke-width="0.9"/>
<path d="M61 721.5 C61.5 720 64 719.5 66 720.5 L66.6 727 C65.5 728.8 63 729 61.5 727.8Z" fill="#fff"/>
<path d="M62.7 729.1 L49.9 784.8 M74.3 715 L65.3 720.5 M24.3 715 L15.4 763.6" stroke-width="0.9"/>
<path d="M36.7 694.5 H41.8 M52.6 635.5 L53 633" stroke="#8c8c8c" stroke-width="1"/>
<!-- part 18 hose -->
<path d="M113.5 715 C114 713.5 115 713 116 713.5 C125 712.5 135 711 146 704.1 C149 700 150.5 696 151.5 692 L158.5 697 C156 701 154 704 150.5 707.5 C145 712 140 715 136.9 716.6 C130 718.5 123 719.5 116.4 720.1 C114.5 720 113.5 718.5 113.5 717Z" fill="#fff"/>
<ellipse cx="115.5" cy="717" rx="2.2" ry="3.3" stroke-width="0.9"/>
<path d="M149.5 699 C149 703 147.5 706 145 708.5" stroke="#555" stroke-width="0.8"/>
<g transform="translate(156.5 693) rotate(-62)">
<path d="M-5 -3.2 L-1.5 -6.8 L-1.5 6.8 L-5 3.2Z" fill="#fff"/>
<rect x="-1.8" y="-7.2" width="3.2" height="14.4" rx="1.4" fill="#fff"/>
<rect x="1.4" y="-6.6" width="2.4" height="13.2" rx="1.1" fill="#fff"/>
<path d="M3.8 -4.6 L7.5 -4.6 C8.6 -4.6 9 -3 9 0 C9 3 8.6 4.6 7.5 4.6 L3.8 4.6Z" fill="#fff"/>
<path d="M5.5 -4.6 C6.2 -2 6.2 2 5.5 4.6" stroke="#555" stroke-width="0.8"/>
</g>
</g>
<g fill="none" stroke="#2e2e2e" stroke-width="1.05" stroke-linejoin="round" stroke-linecap="round">
<g transform="translate(137.12 566.20) rotate(129.47)"><path d="M3.20 -4.50 L5.80 -4.50 Q7.00 -4.50 7.00 -3.30 L7.00 -2.75 L21.82 -2.75 Q23.32 -2.75 23.32 0 Q23.32 2.75 21.82 2.75 L7.00 2.75 L7.00 3.30 Q7.00 4.50 5.80 4.50 L3.20 4.50 Q0 4.50 0 1.30 L0 -1.30 Q0 -4.50 3.20 -4.50Z" fill="#fff"/><path d="M1.20 -3.70 Q2.2 0 1.2 3.70" stroke="#555" stroke-width="0.8"/></g>
<g transform="translate(187.87 576.54) rotate(130.43)"><path d="M3.20 -4.50 L5.80 -4.50 Q7.00 -4.50 7.00 -3.30 L7.00 -2.75 L20.66 -2.75 Q22.16 -2.75 22.16 0 Q22.16 2.75 20.66 2.75 L7.00 2.75 L7.00 3.30 Q7.00 4.50 5.80 4.50 L3.20 4.50 Q0 4.50 0 1.30 L0 -1.30 Q0 -4.50 3.20 -4.50Z" fill="#fff"/><path d="M1.20 -3.70 Q2.2 0 1.2 3.70" stroke="#555" stroke-width="0.8"/></g>
<g transform="translate(196.47 592.24) rotate(130.43)"><path d="M3.20 -4.50 L5.80 -4.50 Q7.00 -4.50 7.00 -3.30 L7.00 -2.75 L20.66 -2.75 Q22.16 -2.75 22.16 0 Q22.16 2.75 20.66 2.75 L7.00 2.75 L7.00 3.30 Q7.00 4.50 5.80 4.50 L3.20 4.50 Q0 4.50 0 1.30 L0 -1.30 Q0 -4.50 3.20 -4.50Z" fill="#fff"/><path d="M1.20 -3.70 Q2.2 0 1.2 3.70" stroke="#555" stroke-width="0.8"/></g>
<g transform="translate(246.96 603.63) rotate(130.18)"><path d="M3.20 -4.50 L5.80 -4.50 Q7.00 -4.50 7.00 -3.30 L7.00 -2.75 L19.67 -2.75 Q21.17 -2.75 21.17 0 Q21.17 2.75 19.67 2.75 L7.00 2.75 L7.00 3.30 Q7.00 4.50 5.80 4.50 L3.20 4.50 Q0 4.50 0 1.30 L0 -1.30 Q0 -4.50 3.20 -4.50Z" fill="#fff"/><path d="M1.20 -3.70 Q2.2 0 1.2 3.70" stroke="#555" stroke-width="0.8"/></g>
<g transform="translate(259.67 610.66) rotate(128.40)"><path d="M3.20 -4.50 L5.80 -4.50 Q7.00 -4.50 7.00 -3.30 L7.00 -2.75 L19.23 -2.75 Q20.73 -2.75 20.73 0 Q20.73 2.75 19.23 2.75 L7.00 2.75 L7.00 3.30 Q7.00 4.50 5.80 4.50 L3.20 4.50 Q0 4.50 0 1.30 L0 -1.30 Q0 -4.50 3.20 -4.50Z" fill="#fff"/><path d="M1.20 -3.70 Q2.2 0 1.2 3.70" stroke="#555" stroke-width="0.8"/></g>
<g transform="translate(390.97 312.20) rotate(128.99)"><path d="M3.20 -5.50 L7.30 -5.50 Q8.50 -5.50 8.50 -4.30 L8.50 -3.00 L70.94 -3.00 Q72.44 -3.00 72.44 0 Q72.44 3.00 70.94 3.00 L8.50 3.00 L8.50 4.30 Q8.50 5.50 7.30 5.50 L3.20 5.50 Q0 5.50 0 2.30 L0 -2.30 Q0 -5.50 3.20 -5.50Z" fill="#fff"/><path d="M1.20 -4.70 Q2.2 0 1.2 4.70" stroke="#555" stroke-width="0.8"/></g>
<g transform="translate(416.58 322.70) rotate(129.11)"><path d="M3.20 -5.50 L7.30 -5.50 Q8.50 -5.50 8.50 -4.30 L8.50 -3.00 L72.98 -3.00 Q74.48 -3.00 74.48 0 Q74.48 3.00 72.98 3.00 L8.50 3.00 L8.50 4.30 Q8.50 5.50 7.30 5.50 L3.20 5.50 Q0 5.50 0 2.30 L0 -2.30 Q0 -5.50 3.20 -5.50Z" fill="#fff"/><path d="M1.20 -4.70 Q2.2 0 1.2 4.70" stroke="#555" stroke-width="0.8"/></g>
<g transform="translate(318.56 432.20) rotate(127.05)"><path d="M3.20 -4.75 L3.30 -4.75 Q4.50 -4.75 4.50 -3.55 L4.50 -3.00 L20.17 -3.00 Q21.67 -3.00 21.67 0 Q21.67 3.00 20.17 3.00 L4.50 3.00 L4.50 3.55 Q4.50 4.75 3.30 4.75 L3.20 4.75 Q0 4.75 0 1.55 L0 -1.55 Q0 -4.75 3.20 -4.75Z" fill="#fff"/><path d="M1.20 -3.95 Q2.2 0 1.2 3.95" stroke="#555" stroke-width="0.8"/></g>
<g transform="translate(31.14 691.39) rotate(102.12)"><path d="M3.20 -5.50 L6.80 -5.50 Q8.00 -5.50 8.00 -4.30 L8.00 -3.25 L20.60 -3.25 Q22.10 -3.25 22.10 0 Q22.10 3.25 20.60 3.25 L8.00 3.25 L8.00 4.30 Q8.00 5.50 6.80 5.50 L3.20 5.50 Q0 5.50 0 2.30 L0 -2.30 Q0 -5.50 3.20 -5.50Z" fill="#fff"/><path d="M1.20 -4.70 Q2.2 0 1.2 4.70" stroke="#555" stroke-width="0.8"/></g>
</g>
<path d="M13.4 465.4H77.8V545.4L63.4 559.2H13.4Z" fill="#fff" stroke="#444" stroke-width="1.2"/>
<path d="M63.4 559.2V545.4H77.8" fill="none" stroke="#3a3a3a" stroke-width="1.1"/>
<text x="17.4" y="485.3" font-size="10.6" font-weight="bold" fill="#222" letter-spacing="0.35">Instruction</text>
<text x="17.4" y="498.5" font-size="10.6" font-weight="bold" fill="#222" letter-spacing="0.35">download</text>
<text x="17.4" y="512.2" font-size="10.6" font-weight="bold" fill="#222" letter-spacing="0.35">Firmware</text>
<circle cx="398.7" cy="60.0" r="17.5" fill="#fff"/><circle cx="398.7" cy="60.0" r="12.9" fill="none" stroke="#256b33" stroke-width="1.95"/><path d="M400.20 54.35 L400.20 64.05 L398.00 64.05 L398.00 57.15 L395.50 58.05 L395.50 56.15 L398.20 54.35 Z" fill="#383838"/>
<circle cx="546.0" cy="32.2" r="17.5" fill="#fff"/><circle cx="546.0" cy="32.2" r="12.9" fill="none" stroke="#256b33" stroke-width="1.95"/><text transform="translate(546.00 36.25) scale(0.82 1)" font-size="14.2" font-weight="bold" fill="#383838" stroke="#383838" stroke-width="0.45" text-anchor="middle">2</text>
<circle cx="186.0" cy="234.0" r="17.5" fill="#fff"/><circle cx="186.0" cy="234.0" r="12.9" fill="none" stroke="#256b33" stroke-width="1.95"/><text transform="translate(186.00 238.05) scale(0.82 1)" font-size="14.2" font-weight="bold" fill="#383838" stroke="#383838" stroke-width="0.45" text-anchor="middle">3</text>
<circle cx="445.2" cy="215.9" r="17.5" fill="#fff"/><circle cx="445.2" cy="215.9" r="12.9" fill="none" stroke="#256b33" stroke-width="1.95"/><text transform="translate(445.20 219.95) scale(0.82 1)" font-size="14.2" font-weight="bold" fill="#383838" stroke="#383838" stroke-width="0.45" text-anchor="middle">4</text>
<circle cx="329.0" cy="297.5" r="17.5" fill="#fff"/><circle cx="329.0" cy="297.5" r="12.9" fill="none" stroke="#256b33" stroke-width="1.95"/><text transform="translate(329.00 301.55) scale(0.82 1)" font-size="14.2" font-weight="bold" fill="#383838" stroke="#383838" stroke-width="0.45" text-anchor="middle">5</text>
<circle cx="283.2" cy="330.0" r="17.5" fill="#fff"/><circle cx="283.2" cy="330.0" r="12.9" fill="none" stroke="#256b33" stroke-width="1.95"/><text transform="translate(283.20 334.05) scale(0.82 1)" font-size="14.2" font-weight="bold" fill="#383838" stroke="#383838" stroke-width="0.45" text-anchor="middle">6</text>
<circle cx="128.5" cy="346.6" r="17.5" fill="#fff"/><circle cx="128.5" cy="346.6" r="12.9" fill="none" stroke="#256b33" stroke-width="1.95"/><text transform="translate(128.50 350.65) scale(0.82 1)" font-size="14.2" font-weight="bold" fill="#383838" stroke="#383838" stroke-width="0.45" text-anchor="middle">8</text>
<circle cx="246.1" cy="401.9" r="17.5" fill="#fff"/><circle cx="246.1" cy="401.9" r="12.9" fill="none" stroke="#256b33" stroke-width="1.95"/><text transform="translate(246.10 405.95) scale(0.82 1)" font-size="14.2" font-weight="bold" fill="#383838" stroke="#383838" stroke-width="0.45" text-anchor="middle">9</text>
<circle cx="244.9" cy="439.2" r="17.5" fill="#fff"/><circle cx="244.9" cy="439.2" r="12.9" fill="none" stroke="#256b33" stroke-width="1.95"/><path d="M241.80 433.55 L241.80 443.25 L239.60 443.25 L239.60 436.35 L237.10 437.25 L237.10 435.35 L239.80 433.55 Z" fill="#383838"/><text transform="translate(248.70 443.25) scale(0.82 1)" font-size="14.2" font-weight="bold" fill="#383838" stroke="#383838" stroke-width="0.45" text-anchor="middle">0</text>
<circle cx="413.0" cy="491.0" r="17.5" fill="#fff"/><circle cx="413.0" cy="491.0" r="12.9" fill="none" stroke="#256b33" stroke-width="1.95"/><path d="M409.90 485.35 L409.90 495.05 L407.70 495.05 L407.70 488.15 L405.20 489.05 L405.20 487.15 L407.90 485.35 Z" fill="#383838"/><path d="M418.60 485.35 L418.60 495.05 L416.40 495.05 L416.40 488.15 L413.90 489.05 L413.90 487.15 L416.60 485.35 Z" fill="#383838"/>
<circle cx="62.5" cy="417.3" r="17.5" fill="#fff"/><circle cx="62.5" cy="417.3" r="12.9" fill="none" stroke="#256b33" stroke-width="1.95"/><path d="M59.40 411.65 L59.40 421.35 L57.20 421.35 L57.20 414.45 L54.70 415.35 L54.70 413.45 L57.40 411.65 Z" fill="#383838"/><text transform="translate(66.30 421.35) scale(0.82 1)" font-size="14.2" font-weight="bold" fill="#383838" stroke="#383838" stroke-width="0.45" text-anchor="middle">2</text>
<circle cx="341.0" cy="544.6" r="17.5" fill="#fff"/><circle cx="341.0" cy="544.6" r="12.9" fill="none" stroke="#256b33" stroke-width="1.95"/><path d="M337.90 538.95 L337.90 548.65 L335.70 548.65 L335.70 541.75 L333.20 542.65 L333.20 540.75 L335.90 538.95 Z" fill="#383838"/><text transform="translate(344.80 548.65) scale(0.82 1)" font-size="14.2" font-weight="bold" fill="#383838" stroke="#383838" stroke-width="0.45" text-anchor="middle">3</text>
<circle cx="135.8" cy="541.0" r="17.5" fill="#fff"/><circle cx="135.8" cy="541.0" r="12.9" fill="none" stroke="#256b33" stroke-width="1.95"/><path d="M132.70 535.35 L132.70 545.05 L130.50 545.05 L130.50 538.15 L128.00 539.05 L128.00 537.15 L130.70 535.35 Z" fill="#383838"/><text transform="translate(139.60 545.05) scale(0.82 1)" font-size="14.2" font-weight="bold" fill="#383838" stroke="#383838" stroke-width="0.45" text-anchor="middle">4</text>
<circle cx="60.1" cy="700.6" r="17.5" fill="#fff"/><circle cx="60.1" cy="700.6" r="12.9" fill="none" stroke="#256b33" stroke-width="1.95"/><path d="M57.00 694.95 L57.00 704.65 L54.80 704.65 L54.80 697.75 L52.30 698.65 L52.30 696.75 L55.00 694.95 Z" fill="#383838"/><text transform="translate(63.90 704.65) scale(0.82 1)" font-size="14.2" font-weight="bold" fill="#383838" stroke="#383838" stroke-width="0.45" text-anchor="middle">4</text>
<circle cx="105.8" cy="795.3" r="17.5" fill="#fff"/><circle cx="105.8" cy="795.3" r="12.9" fill="none" stroke="#256b33" stroke-width="1.95"/><path d="M102.70 789.65 L102.70 799.35 L100.50 799.35 L100.50 792.45 L98.00 793.35 L98.00 791.45 L100.70 789.65 Z" fill="#383838"/><text transform="translate(109.60 799.35) scale(0.82 1)" font-size="14.2" font-weight="bold" fill="#383838" stroke="#383838" stroke-width="0.45" text-anchor="middle">5</text>
<circle cx="24.1" cy="585.5" r="17.5" fill="#fff"/><circle cx="24.1" cy="585.5" r="12.9" fill="none" stroke="#256b33" stroke-width="1.95"/><path d="M21.00 579.85 L21.00 589.55 L18.80 589.55 L18.80 582.65 L16.30 583.55 L16.30 581.65 L19.00 579.85 Z" fill="#383838"/><text transform="translate(27.90 589.55) scale(0.82 1)" font-size="14.2" font-weight="bold" fill="#383838" stroke="#383838" stroke-width="0.45" text-anchor="middle">6</text>
<circle cx="51.8" cy="615.5" r="17.5" fill="#fff"/><circle cx="51.8" cy="615.5" r="12.9" fill="none" stroke="#256b33" stroke-width="1.95"/><path d="M48.70 609.85 L48.70 619.55 L46.50 619.55 L46.50 612.65 L44.00 613.55 L44.00 611.65 L46.70 609.85 Z" fill="#383838"/><text transform="translate(55.60 619.55) scale(0.82 1)" font-size="14.2" font-weight="bold" fill="#383838" stroke="#383838" stroke-width="0.45" text-anchor="middle">7</text>
<circle cx="158.4" cy="745.9" r="17.5" fill="#fff"/><circle cx="158.4" cy="745.9" r="12.9" fill="none" stroke="#256b33" stroke-width="1.95"/><path d="M155.30 740.25 L155.30 749.95 L153.10 749.95 L153.10 743.05 L150.60 743.95 L150.60 742.05 L153.30 740.25 Z" fill="#383838"/><text transform="translate(162.20 749.95) scale(0.82 1)" font-size="14.2" font-weight="bold" fill="#383838" stroke="#383838" stroke-width="0.45" text-anchor="middle">8</text>
<circle cx="234.1" cy="741.3" r="17.5" fill="#fff"/><circle cx="234.1" cy="741.3" r="12.9" fill="none" stroke="#256b33" stroke-width="1.95"/><path d="M231.00 735.65 L231.00 745.35 L228.80 745.35 L228.80 738.45 L226.30 739.35 L226.30 737.45 L229.00 735.65 Z" fill="#383838"/><text transform="translate(237.90 745.35) scale(0.82 1)" font-size="14.2" font-weight="bold" fill="#383838" stroke="#383838" stroke-width="0.45" text-anchor="middle">9</text>
<circle cx="463.1" cy="358.6" r="17" fill="#fff"/><circle cx="463.1" cy="358.6" r="11.9" fill="#1e7a2f"/><text transform="translate(463.2 363.6) scale(0.95 1)" font-size="14.2" font-weight="bold" fill="#fff" stroke="#fff" stroke-width="0.45" text-anchor="middle">7</text>
<rect x="428" y="793" width="1.2" height="2" fill="#777"/>
</svg></body></html>
